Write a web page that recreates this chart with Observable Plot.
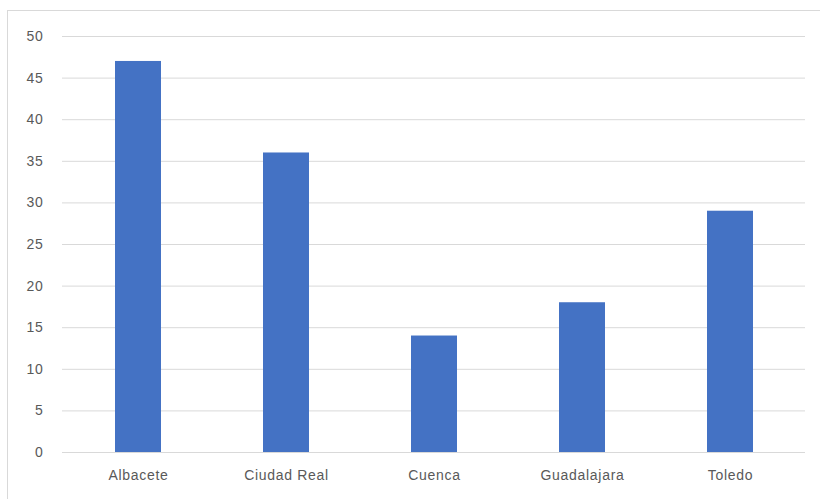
<!DOCTYPE html>
<html>
<head>
<meta charset="utf-8">
<script src="https://cdn.jsdelivr.net/npm/d3@7"></script>
<script src="https://cdn.jsdelivr.net/npm/@observablehq/plot@0.6"></script>
<style>
  html, body { margin: 0; padding: 0; background: #fff; }
  #wrap { position: relative; width: 820px; height: 499px; overflow: hidden; }
  #border { position: absolute; left: 7px; top: 10px; width: 830px; height: 520px; border: 1px solid #d9d9d9; box-sizing: border-box; pointer-events: none; }
  #wrap svg text { letter-spacing: 0.7px; }
</style>
</head>
<body>
<div id="wrap"><div id="border"></div></div>
<script>
const provinces = ["Albacete", "Ciudad Real", "Cuenca", "Guadalajara", "Toledo"];
const values = [47, 36, 14, 18, 29];
const yTicks = [0, 5, 10, 15, 20, 25, 30, 35, 40, 45, 50];

const data = provinces.map((p, i) => ({province: p, value: values[i]}));

const chart = Plot.plot({
  width: 820,
  height: 499,
  marginLeft: 62,
  marginRight: 15,
  marginTop: 36,
  marginBottom: 47,
  style: {fontFamily: "Liberation Sans, Arial, sans-serif", fontSize: "14px", color: "#595959", background: "transparent"},
  x: {domain: provinces, paddingInner: 0.69, paddingOuter: 0.345, label: null},
  y: {domain: [0, 50], ticks: yTicks, label: null},
  marks: [
    Plot.gridY(yTicks, {stroke: "#d9d9d9", strokeOpacity: 1, strokeWidth: 1}),
    Plot.barY(data, {x: "province", y: "value", fill: "#4472C4"}),
    Plot.axisY(yTicks, {tickSize: 0, tickPadding: 19, fill: "#595959", fontSize: 14}),
    Plot.axisX({tickSize: 0, tickPadding: 18, fill: "#595959", fontSize: 14})
  ]
});
document.getElementById("wrap").prepend(chart);
</script>
</body>
</html>
